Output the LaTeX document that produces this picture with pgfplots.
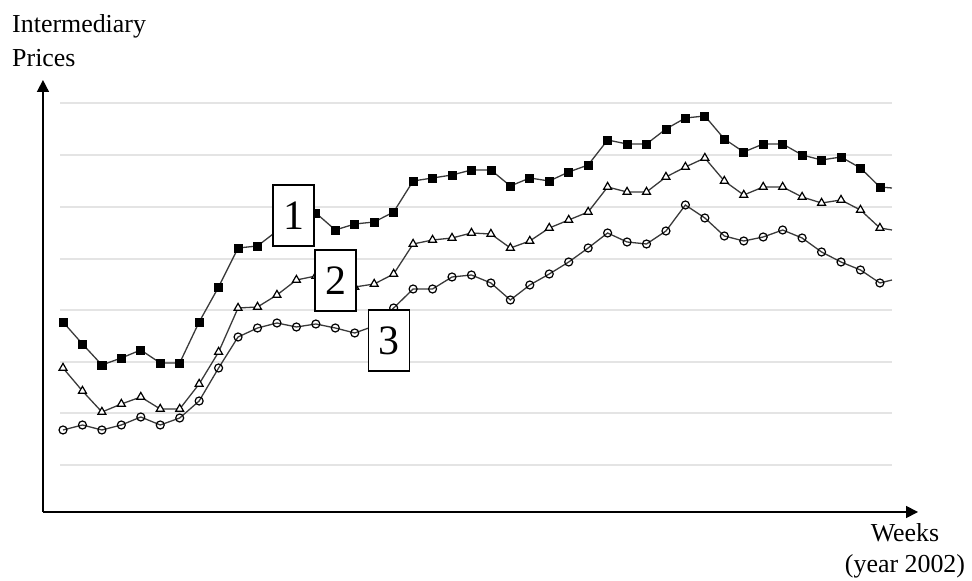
\documentclass[border=0pt]{standalone}
\usepackage{pgfplots}
\pgfplotsset{compat=1.18}
\usetikzlibrary{arrows.meta}
\usepackage{fontspec}
\setmainfont{Liberation Serif}
\definecolor{gridc}{HTML}{E4E4E4}
\definecolor{linec}{HTML}{3A3A3A}
\tikzset{boxlab/.style={draw=black, line width=1.2bp, fill=white, minimum width=41bp, minimum height=61bp, inner sep=0pt, font=\fontsize{42}{42}\selectfont}}
\begin{document}
\begin{tikzpicture}
\begin{axis}[
  set layers=standard,
  x=19.45bp, y=1bp,
  xmin=-0.03, xmax=44.96, ymin=69, ymax=501,
  enlargelimits=false,
  axis lines=left,
  axis line style={line width=1.6bp, -{Triangle[length=12bp,width=12bp]}},
  xtick=\empty, ytick=\empty,
  clip=false,
  every axis plot/.append style={line width=1.3bp, color=linec},
]
% bounding box of the whole picture
\path (axis cs:-2.239,0) rectangle (axis cs:47.735,581);
% light horizontal grid lines
\addplot[gridc, line width=2bp, no marks, forget plot] coordinates {(0.846,478) (43.62,478)};
\addplot[gridc, line width=2bp, no marks, forget plot] coordinates {(0.846,425.5) (43.62,425.5)};
\addplot[gridc, line width=2bp, no marks, forget plot] coordinates {(0.846,373.5) (43.62,373.5)};
\addplot[gridc, line width=2bp, no marks, forget plot] coordinates {(0.846,322) (43.62,322)};
\addplot[gridc, line width=2bp, no marks, forget plot] coordinates {(0.846,270.5) (43.62,270.5)};
\addplot[gridc, line width=2bp, no marks, forget plot] coordinates {(0.846,219) (43.62,219)};
\addplot[gridc, line width=2bp, no marks, forget plot] coordinates {(0.846,167.5) (43.62,167.5)};
\addplot[gridc, line width=2bp, no marks, forget plot] coordinates {(0.846,116) (43.62,116)};
% series 3 (circles)
\addplot[mark=o, mark size=4bp, mark options={solid, draw=black, fill=white, line width=1.2bp}] coordinates {
(1,151) (2,156) (3,151) (4,156) (5,164) (6,156) (7,163) (8,180) (9,213) (10,244)
(11,253) (12,258) (13,254) (14,257) (15,253) (16,248) (17,255) (18,273) (19,292) (20,292)
(21,304) (22,306) (23,298) (24,281) (25,296) (26,307) (27,319) (28,333) (29,348) (30,339)
(31,337) (32,350) (33,376) (34,363) (35,345) (36,340) (37,344) (38,351) (39,343) (40,329)
(41,319) (42,311) (43,298)};
\addplot[no marks] coordinates {(43,298) (43.62,301)};
% series 2 (triangles)
\addplot[mark=triangle*, mark size=4.6bp, mark options={solid, draw=black, fill=white, line width=1.2bp}] coordinates {
(1,213) (2,190) (3,169) (4,177) (5,184) (6,172) (7,172) (8,197) (9,229) (10,273)
(11,274) (12,286) (13,301) (14,305) (15,297) (16,294) (17,297) (18,307) (19,337) (20,341)
(21,343) (22,348) (23,347) (24,333) (25,340) (26,353) (27,361) (28,369) (29,394) (30,389)
(31,389) (32,404) (33,414) (34,423) (35,400) (36,386) (37,394) (38,394) (39,384) (40,378)
(41,381) (42,371) (43,353)};
\addplot[no marks] coordinates {(43,353) (43.62,351)};
% series 1 (filled squares)
\addplot[mark=square*, mark size=4bp, mark options={solid, draw=black, fill=black, line width=0.8bp}] coordinates {
(1,259) (2,237) (3,216) (4,223) (5,231) (6,218) (7,218) (8,259) (9,294) (10,333)
(11,335) (12,350) (13,359) (14,368) (15,351) (16,357) (17,359) (18,369) (19,400) (20,403)
(21,406) (22,411) (23,411) (24,395) (25,403) (26,400) (27,409) (28,416) (29,441) (30,437)
(31,437) (32,452) (33,463) (34,465) (35,442) (36,429) (37,437) (38,437) (39,426) (40,421)
(41,424) (42,413) (43,394)};
\addplot[no marks] coordinates {(43,394) (43.62,393)};
% curve labels, on top of the curves
\begin{pgfonlayer}{axis foreground}
\node[boxlab] at (axis cs:12.85,365.5) {1};
\node[boxlab] at (axis cs:15.01,300.5) {2};
\node[boxlab] at (axis cs:17.76,240.5) {3};
\end{pgfonlayer}
% axis titles
\node[anchor=base west, inner sep=0pt, font=\fontsize{26}{30}\selectfont] at (axis cs:-1.62,548) {Intermediary};
\node[anchor=base west, inner sep=0pt, font=\fontsize{26}{30}\selectfont] at (axis cs:-1.62,514) {Prices};
\node[anchor=base, inner sep=0pt, font=\fontsize{26}{30}\selectfont] at (axis cs:44.29,39) {Weeks};
\node[anchor=base, inner sep=0pt, font=\fontsize{26}{30}\selectfont] at (axis cs:44.29,8) {(year 2002)};
\end{axis}
\end{tikzpicture}
\end{document}
